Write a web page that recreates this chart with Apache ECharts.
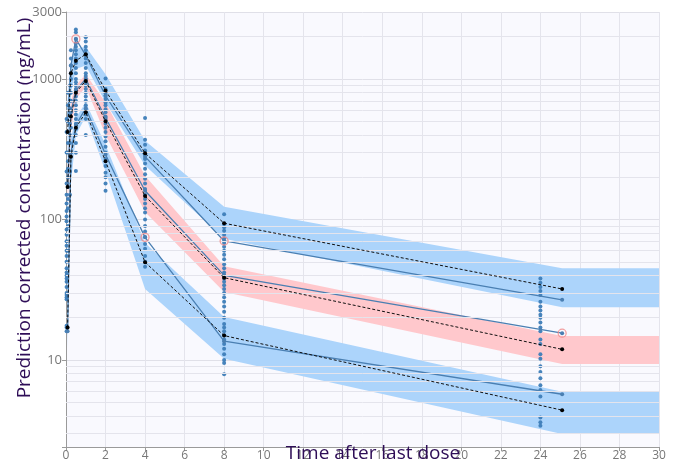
<!DOCTYPE html>
<html><head><meta charset="utf-8">
<script src="https://cdn.jsdelivr.net/npm/echarts@6/dist/echarts.min.js"></script>
<style>html,body{margin:0;padding:0;background:#fff}#c{width:683px;height:466px}</style>
</head><body><div id="c"></div>
<script>
// bin midpoints (time after last dose, h)
const binX = [0.08, 0.25, 0.5, 1, 2, 4, 8, 25.1];
// band x (last band point carries the 25.1 values to the axis end)
const bandX = [0.08, 0.25, 0.5, 1, 2, 4, 8, 25.1, 30];

// 95th percentile
const hiBandLo = [250, 800, 1180, 1250, 680, 242, 73, 23.7, 23.7];
const hiBandHi = [700, 1350, 1640, 1700, 1080, 364, 123, 45, 45];
const hiSim = [420, 1100, 1350, 1500, 830, 296, 94, 32];
const hiObs = [500, 1250, 1930, 1470, 760, 280, 70.3, 26.8];

// median
const midBandLo = [120, 420, 720, 880, 400, 113, 30.5, 9.37, 9.37];
const midBandHi = [230, 700, 900, 1080, 680, 205, 46.5, 14.8, 14.8];
const midSim = [170, 540, 800, 970, 500, 147, 38.5, 11.9];
const midObs = [180, 580, 830, 1000, 530, 160, 40, 15.5];

// 5th percentile
const loBandLo = [12, 180, 400, 540, 220, 32, 10.2, 2.97, 2.97];
const loBandHi = [28, 380, 530, 680, 340, 68, 20.2, 5.94, 5.94];
const loSim = [17, 280, 450, 580, 260, 49.6, 14.9, 4.39];
const loObs = [16, 300, 470, 620, 290, 74.6, 13.6, 5.7];

// observed percentiles outside the simulated CI
const outliers = [[0.5, 1930], [4, 74.6], [8, 70.3], [25.1, 15.5]];

// observations (prediction corrected)
const obsTimes = [0.03, 0.1, 0.2, 0.25, 0.5, 1, 2, 4, 8, 24];
const obsValues = [
  [16, 17, 17.5, 27, 28, 29, 30, 33, 36, 38, 40, 42, 45, 50, 55, 60, 65, 70, 78, 85, 97, 105, 115, 130, 150, 180, 220, 300, 420, 520],
  [60, 90, 120, 140, 170, 200, 230, 260, 300, 350, 420, 500, 650, 800],
  [150, 220, 280, 350, 400, 480, 550, 620, 700, 800, 900],
  [300, 450, 600, 700, 800, 900, 1000, 1100, 1250, 1400, 1600],
  [2250, 2150, 1930, 1800, 1700, 1600, 1500, 1400, 1300, 1200, 1100, 1000, 950, 900, 850, 800, 750, 700, 650, 600, 560, 520, 480, 440, 400, 350, 298, 221],
  [1980, 1850, 1700, 1600, 1500, 1400, 1300, 1200, 1100, 1050, 1000, 950, 900, 850, 800, 750, 700, 650, 600, 560, 520, 400],
  [1010, 850, 800, 760, 720, 680, 650, 610, 580, 540, 520, 480, 450, 420, 390, 360, 330, 300, 270, 240, 215, 200, 180, 160],
  [528, 370, 340, 310, 290, 270, 250, 230, 210, 195, 180, 165, 150, 140, 130, 120, 112, 100, 90, 82, 75, 67, 62, 55, 50, 46],
  [109, 93, 88, 83, 78, 73, 68, 64, 60, 56, 52, 48, 45, 42, 40, 38, 36, 34, 32, 30, 28, 26, 24, 22, 20, 18, 17, 16, 15, 14, 13, 12, 11, 10, 9.5, 7.9],
  [38, 35.5, 33, 31, 29, 26, 24, 22.5, 21, 20, 18.5, 17, 16, 14, 13, 11, 10.2, 9, 8.2, 7.4, 6.6, 6.1, 5.5, 3.9, 3.6, 3.4]
];

const xTicks = {min: 0, max: 30, interval: 2};
const yRange = {min: 2.4, max: 3000};
const yMinorGrid = [3,4,5,6,7,8,9,20,30,40,50,60,70,80,90,200,300,400,500,600,700,800,900,2000];

const obsData = [];
obsTimes.forEach((t, i) => obsValues[i].forEach(v => obsData.push([t, v])));
const zip = (xs, ys) => ys.map((y, i) => [xs[i], y]);

function band(lo, hi, color) {
  return {
    type: 'custom', silent: true, clip: true, z: 1,
    data: [[bandX[0], lo[0]]],
    renderItem: function (params, api) {
      const pts = [];
      for (let i = 0; i < bandX.length; i++) pts.push(api.coord([bandX[i], hi[i]]));
      for (let i = bandX.length - 1; i >= 0; i--) pts.push(api.coord([bandX[i], lo[i]]));
      return {type: 'polygon', shape: {points: pts}, style: {fill: color}};
    }
  };
}
const BLUE_BAND = '#acd4fb', RED_BAND = '#ffc8cc';
const LINE_BLUE = '#4a7fb2', DOT = '#3d7db8';
function solid(vals) {
  return {type: 'line', data: zip(binX, vals), z: 4, symbol: 'circle', symbolSize: 4,
    itemStyle: {color: LINE_BLUE}, lineStyle: {color: LINE_BLUE, width: 1.3}, silent: true, animation: false};
}
function dashed(vals) {
  return {type: 'line', data: zip(binX, vals), z: 5, symbol: 'circle', symbolSize: 4,
    itemStyle: {color: '#000'}, lineStyle: {color: '#111', width: 1, type: [3, 2]}, silent: true, animation: false};
}

const chart = echarts.init(document.getElementById('c'), null, {renderer: 'canvas'});
chart.setOption({
  animation: false,
  grid: {left: 66, right: 24, top: 12, bottom: 19, show: true, backgroundColor: '#f9f9fe', borderWidth: 0},
  xAxis: {
    type: 'value', min: xTicks.min, max: xTicks.max, interval: xTicks.interval,
    axisLine: {show: true, onZero: false, lineStyle: {color: '#9a9a9a', width: 1}},
    axisTick: {show: true, length: 4, lineStyle: {color: '#9a9a9a'}},
    axisLabel: {color: '#777', fontSize: 12, margin: 3, fontFamily: 'Open Sans'},
    splitLine: {show: true, lineStyle: {color: '#e4e4ec', width: 1}}
  },
  yAxis: {
    type: 'log', logBase: 10, min: yRange.min, max: yRange.max,
    axisLine: {show: true, onZero: false, lineStyle: {color: '#9a9a9a', width: 1}},
    axisTick: {show: true, length: 4, lineStyle: {color: '#9a9a9a'}},
    axisLabel: {color: '#777', fontSize: 13, margin: 4, fontFamily: 'Open Sans',
      formatter: v => (v < 5 ? '' : String(Math.round(v)))},
    splitLine: {show: true, lineStyle: {color: '#e0e0e8', width: 1}}
  },
  graphic: [
    {type: 'text', x: 373, y: 454, z: 100, style: {text: 'Time after last dose', font: '19px "Open Sans"', fill: '#2e0d57', align: 'center', verticalAlign: 'middle'}},
    {type: 'text', x: 25, y: 208, rotation: Math.PI / 2, z: 100, style: {text: 'Prediction corrected concentration (ng/mL)', font: '19px "Open Sans"', fill: '#2e0d57', align: 'center', verticalAlign: 'middle'}}
  ],
  series: [
    {type: 'line', data: [[0, 10]], symbol: 'none', lineStyle: {opacity: 0}, silent: true, z: 0,
      markLine: {silent: true, symbol: 'none', label: {show: false}, animation: false,
        lineStyle: {color: '#e4e4ec', width: 1, type: 'solid'},
        data: yMinorGrid.map(v => ({yAxis: v}))}},
    band(hiBandLo, hiBandHi, BLUE_BAND),
    band(midBandLo, midBandHi, RED_BAND),
    band(loBandLo, loBandHi, BLUE_BAND),
    {type: 'scatter', data: obsData, symbolSize: 4, z: 3, itemStyle: {color: DOT, opacity: 0.95}, silent: true},
    solid(hiObs), solid(midObs), solid(loObs),
    dashed(hiSim), dashed(midSim), dashed(loSim),
    {type: 'scatter', data: outliers, symbol: 'circle', symbolSize: 8, z: 6, silent: true,
      itemStyle: {color: 'rgba(0,0,0,0)', borderColor: '#f08a8a', borderWidth: 1.3}}
  ]
});
</script></body></html>
